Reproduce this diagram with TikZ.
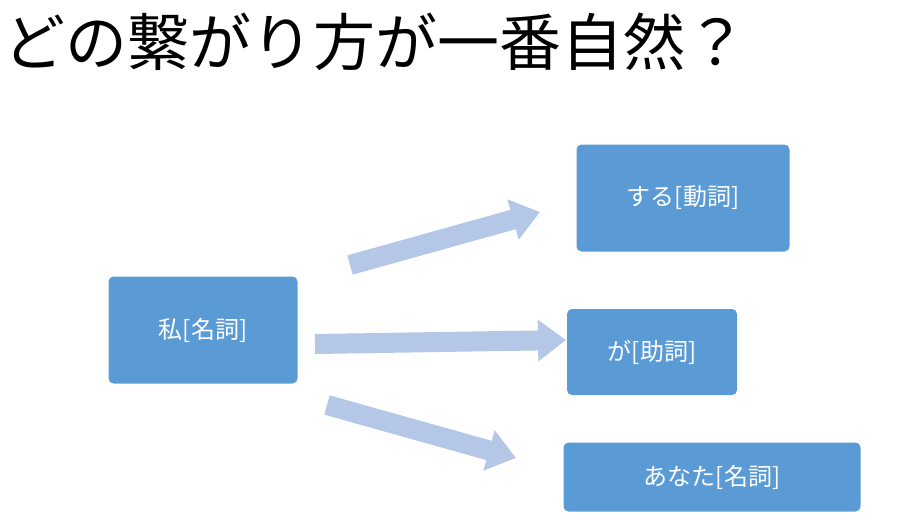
\documentclass[tikz,border=0pt]{standalone}
\usepackage{fontspec}
\setmainfont{Noto Sans CJK JP}
\usetikzlibrary{arrows.meta,positioning}
\definecolor{boxblue}{HTML}{5B9BD5}
\definecolor{arrowblue}{HTML}{B4C7E7}
\tikzset{>=latex}

\begin{document}
\begin{tikzpicture}[x=1pt,y=-1pt,
		word/.style={fill=boxblue,rounded corners=5pt,text=white,font=\fontsize{24}{28}\selectfont,inner sep=0pt},
		blockarrow/.style={draw=arrowblue,line width=20pt,-{Triangle[width=40pt,length=28pt]}}]
		\useasboundingbox (0,0) rectangle (910,525);
		\node[anchor=west,font=\fontsize{62}{68}\selectfont,inner sep=0pt] (title) at (3,42) {どの繋がり方が一番自然？};

		% words
		\node[word,minimum width=189pt,minimum height=107pt] (watashi) at (203,330) {私[名詞]};
		\node[word,minimum width=213pt,minimum height=107pt] (suru)    at (683,198) {する[動詞]};
		\node[word,minimum width=170pt,minimum height=86pt]  (ga)      at (652,352) {が[助詞]};
		\node[word,minimum width=297pt,minimum height=69pt]  (anata)   at (712,477) {あなた[名詞]};

		% arrows
		\coordinate (a1s) at (350,265);
		\coordinate (a1e) at (540,212);
		\coordinate (a2s) at (315,344);
		\coordinate (a2e) at (566,340);
		\coordinate (a3s) at (327,405);
		\coordinate (a3e) at (516,458);
		\draw[blockarrow] (a1s) -- (a1e);
		\draw[blockarrow] (a2s) -- (a2e);
		\draw[blockarrow] (a3s) -- (a3e);
\end{tikzpicture}
\end{document}
